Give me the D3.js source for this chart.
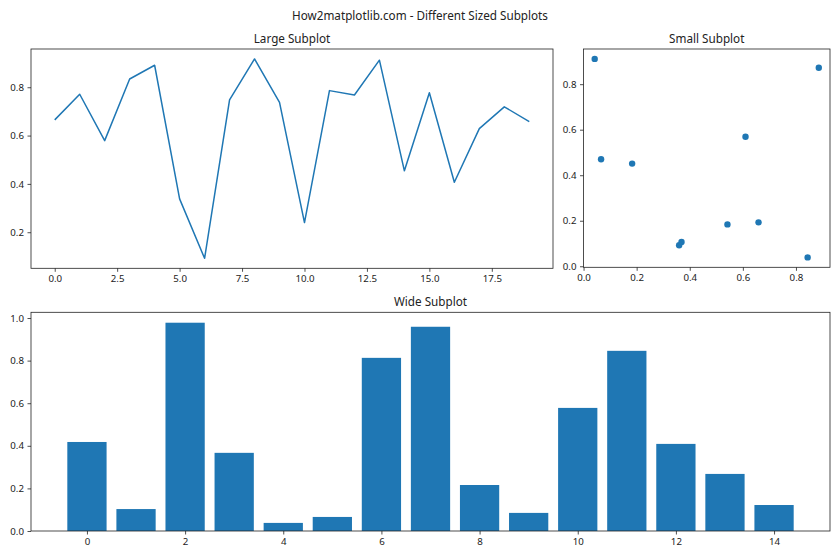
<!DOCTYPE html>
<html>
<head>
<meta charset="utf-8">
<script src="https://cdn.jsdelivr.net/npm/d3@7"></script>
<style>
  body { margin: 0; background: #fff; }
  svg text { font-family: "Noto Sans", "Open Sans", sans-serif; fill: #222; }
</style>
</head>
<body>
<svg id="chart" width="840" height="560"></svg>
<script>
// ---- Data ----
const lineX = d3.range(20);
const lineY = [0.665, 0.771, 0.579, 0.834, 0.891, 0.338, 0.092, 0.748, 0.917, 0.737,
               0.240, 0.786, 0.768, 0.912, 0.454, 0.777, 0.407, 0.629, 0.719, 0.658];

const scatterX = [0.042, 0.066, 0.183, 0.360, 0.369, 0.542, 0.610, 0.659, 0.844, 0.886];
const scatterY = [0.911, 0.470, 0.451, 0.092, 0.107, 0.184, 0.569, 0.193, 0.039, 0.872];

const barCats = d3.range(15);
const barVals = [0.418, 0.103, 0.978, 0.367, 0.038, 0.066, 0.813, 0.959, 0.216, 0.085,
                 0.578, 0.846, 0.409, 0.268, 0.122];

const lineXTicks = [0, 2.5, 5, 7.5, 10, 12.5, 15, 17.5];
const lineYTicks = [0.2, 0.4, 0.6, 0.8];
const scatXTicks = [0, 0.2, 0.4, 0.6, 0.8];
const scatYTicks = [0, 0.2, 0.4, 0.6, 0.8];
const barXTicks = [0, 2, 4, 6, 8, 10, 12, 14];
const barYTicks = [0, 0.2, 0.4, 0.6, 0.8, 1.0];

const suptitle = "How2matplotlib.com - Different Sized Subplots";
const titles = ["Large Subplot", "Small Subplot", "Wide Subplot"];

const color = "#1f77b4";
const svg = d3.select("#chart");

svg.append("text").attr("x", 420).attr("y", 20).attr("text-anchor", "middle")
  .style("font-size", "11.7px").text(suptitle);

function pad(ext, f = 0.05) { const r = ext[1] - ext[0]; return [ext[0] - r * f, ext[1] + r * f]; }

function makeAxes(box, xDom, yDom, xTicks, yTicks, xFmt, yFmt, title) {
  const g = svg.append("g");
  const x = d3.scaleLinear().domain(xDom).range([box.x0, box.x1]);
  const y = d3.scaleLinear().domain(yDom).range([box.y1, box.y0]);
  const xa = g.append("g").attr("transform", `translate(0,${box.y1})`)
    .call(d3.axisBottom(x).tickValues(xTicks).tickFormat(xFmt).tickSize(3.5).tickSizeOuter(0).tickPadding(3.5));
  const ya = g.append("g").attr("transform", `translate(${box.x0},0)`)
    .call(d3.axisLeft(y).tickValues(yTicks).tickFormat(yFmt).tickSize(3.5).tickSizeOuter(0).tickPadding(3.5));
  [xa, ya].forEach(a => {
    a.select(".domain").remove();
    a.selectAll("line").attr("stroke", "#222").attr("stroke-width", 0.8);
    a.selectAll("text").style("font-size", "9.7px").attr("fill", "#222");
  });
  g.append("text").attr("x", (box.x0 + box.x1) / 2).attr("y", box.y0 - 6)
    .attr("text-anchor", "middle").style("font-size", "11.7px").text(title);
  return { g, x, y, box };
}

function frame(ax) {
  const b = ax.box;
  ax.g.append("rect").attr("x", b.x0).attr("y", b.y0).attr("width", b.x1 - b.x0).attr("height", b.y1 - b.y0)
    .attr("fill", "none").attr("stroke", "#222").attr("stroke-width", 0.8);
}

// ---- Large line plot ----
const a1 = makeAxes({ x0: 31, x1: 553, y0: 49, y1: 268.3 },
  pad([0, 19]), pad(d3.extent(lineY)), lineXTicks, lineYTicks, d3.format(".1f"), d3.format(".1f"), titles[0]);
a1.g.append("path").datum(lineX.map((d, i) => [d, lineY[i]]))
  .attr("fill", "none").attr("stroke", color).attr("stroke-width", 1.5).attr("stroke-linejoin", "round")
  .attr("d", d3.line().x(d => a1.x(d[0])).y(d => a1.y(d[1])));
frame(a1);

// ---- Small scatter ----
const a2 = makeAxes({ x0: 583.5, x1: 830, y0: 49, y1: 267.3 },
  pad(d3.extent(scatterX)), pad(d3.extent(scatterY)), scatXTicks, scatYTicks, d3.format(".1f"), d3.format(".1f"), titles[1]);
a2.g.selectAll("circle").data(scatterX).join("circle")
  .attr("cx", d => a2.x(d)).attr("cy", (d, i) => a2.y(scatterY[i])).attr("r", 3.2).attr("fill", color);
frame(a2);

// ---- Wide bar ----
const a3 = makeAxes({ x0: 31, x1: 830, y0: 312.3, y1: 531 },
  pad([-0.4, 14.4]), [0, d3.max(barVals) * 1.05], barXTicks, barYTicks, d3.format("d"), d3.format(".1f"), titles[2]);
a3.g.selectAll("rect.bar").data(barCats).join("rect").attr("class", "bar")
  .attr("x", d => a3.x(d - 0.4)).attr("width", d => a3.x(d + 0.4) - a3.x(d - 0.4))
  .attr("y", (d, i) => a3.y(barVals[i])).attr("height", (d, i) => a3.y(0) - a3.y(barVals[i]))
  .attr("fill", color);
frame(a3);
</script>
</body>
</html>
